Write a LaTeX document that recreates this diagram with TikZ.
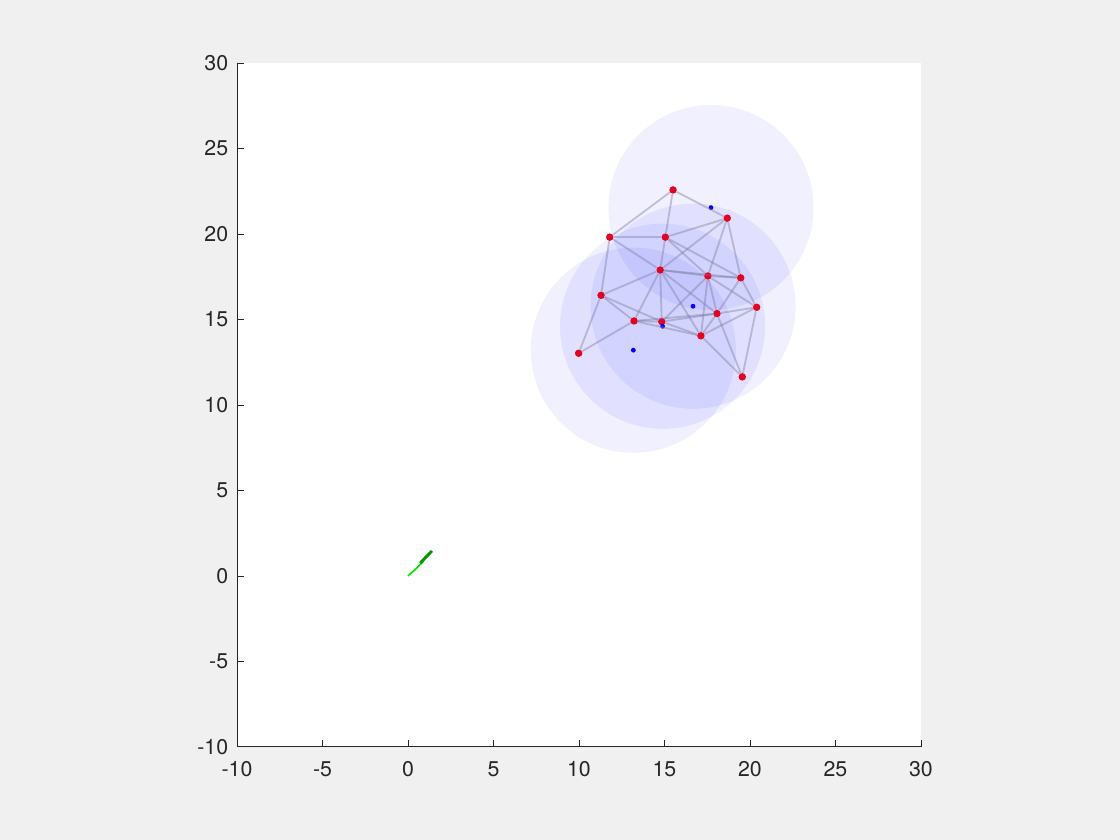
\documentclass[tikz,border=0pt]{standalone}
\usepackage{fontspec}
\setmainfont{TeX Gyre Heros}
\definecolor{figbg}{RGB}{240,240,240}
\definecolor{axcol}{RGB}{38,38,38}
\definecolor{netred}{RGB}{225,0,35}
\definecolor{linkcol}{RGB}{125,125,160}
\definecolor{pathlight}{RGB}{0,230,0}
\definecolor{pathdark}{RGB}{0,150,0}
\tikzset{
  sensor/.style={circle,fill=netred,inner sep=0pt,minimum size=5.6pt},
  beacon/.style={circle,fill=blue,inner sep=0pt,minimum size=3.6pt},
  link/.style={draw=linkcol,draw opacity=0.42,line width=1.4pt},
  rangedisk/.style={fill=blue,fill opacity=0.06},
  ticklab/.style={font=\fontsize{16}{19}\selectfont,text=axcol,inner sep=0pt}
}
\begin{document}
\begin{tikzpicture}[x=12.825pt,y=12.825pt]

\useasboundingbox (-23.86,-15.44) rectangle (41.64,33.68);
\fill[figbg] (-23.86,-15.44) rectangle (41.64,33.68);
\fill[white] (-10,-10) rectangle (30,30);

\coordinate (c1) at (17.72,21.54);
\coordinate (c2) at (16.67,15.77);
\coordinate (c3) at (14.89,14.60);
\coordinate (c4) at (13.18,13.20);

\fill[rangedisk] (c1) circle [radius=6];
\fill[rangedisk] (c2) circle [radius=6];
\fill[rangedisk] (c3) circle [radius=6];
\fill[rangedisk] (c4) circle [radius=6];

\node[sensor] (s1) at (15.50,22.57) {};
\node[sensor] (s2) at (18.67,20.92) {};
\node[sensor] (s3) at (11.80,19.81) {};
\node[sensor] (s4) at (15.05,19.81) {};
\node[sensor] (s5) at (14.75,17.89) {};
\node[sensor] (s6) at (17.54,17.54) {};
\node[sensor] (s7) at (19.46,17.43) {};
\node[sensor] (s8) at (11.29,16.41) {};
\node[sensor] (s9) at (20.39,15.71) {};
\node[sensor] (s10) at (18.07,15.34) {};
\node[sensor] (s11) at (13.22,14.91) {};
\node[sensor] (s12) at (14.84,14.87) {};
\node[sensor] (s13) at (17.13,14.04) {};
\node[sensor] (s14) at (9.98,13.02) {};
\node[sensor] (s15) at (19.55,11.64) {};

\node[beacon] (b1) at (c1) {};
\node[beacon] (b2) at (c2) {};
\node[beacon] (b3) at (c3) {};
\node[beacon] (b4) at (c4) {};

\draw[link] (s1) -- (s2);
\draw[link] (s1) -- (s3);
\draw[link] (s1) -- (s4);
\draw[link] (s2) -- (s4);
\draw[link] (s2) -- (s5);
\draw[link] (s2) -- (s6);
\draw[link] (s2) -- (s7);
\draw[link] (s3) -- (s4);
\draw[link] (s3) -- (s5);
\draw[link] (s3) -- (s8);
\draw[link] (s4) -- (s5);
\draw[link] (s4) -- (s6);
\draw[link] (s4) -- (s7);
\draw[link] (s5) -- (s6);
\draw[link] (s5) -- (s7);
\draw[link] (s5) -- (s8);
\draw[link] (s5) -- (s11);
\draw[link] (s5) -- (s12);
\draw[link] (s5) -- (s13);
\draw[link] (s5) -- (s10);
\draw[link] (s6) -- (s7);
\draw[link] (s6) -- (s10);
\draw[link] (s6) -- (s12);
\draw[link] (s6) -- (s13);
\draw[link] (s6) -- (s9);
\draw[link] (s7) -- (s9);
\draw[link] (s7) -- (s10);
\draw[link] (s8) -- (s11);
\draw[link] (s8) -- (s12);
\draw[link] (s8) -- (s14);
\draw[link] (s9) -- (s10);
\draw[link] (s9) -- (s13);
\draw[link] (s9) -- (s15);
\draw[link] (s10) -- (s11);
\draw[link] (s10) -- (s12);
\draw[link] (s10) -- (s13);
\draw[link] (s10) -- (s15);
\draw[link] (s11) -- (s12);
\draw[link] (s11) -- (s13);
\draw[link] (s11) -- (s14);
\draw[link] (s12) -- (s13);
\draw[link] (s13) -- (s15);

\draw[pathlight,line width=1.3pt] (0,0) -- (0.45,0.4) -- (0.9,0.85);
\draw[pathdark,line width=2.2pt] (0.72,0.75) -- (1.05,1.1) -- (1.4,1.46);

\draw[axcol,line width=0.6pt] (-10,30) -- (-10,-10) -- (30,-10);
\foreach \t in {-10,-5,...,30} {
  \draw[axcol,line width=0.6pt] (\t,-10) -- (\t,-9.6);
  \draw[axcol,line width=0.6pt] (-10,\t) -- (-9.6,\t);
  \node[ticklab,anchor=north] (xl\t) at (\t,-10.85) {\t};
  \node[ticklab,anchor=east] (yl\t) at (-10.5,\t) {\t};
}
\end{tikzpicture}
\end{document}
